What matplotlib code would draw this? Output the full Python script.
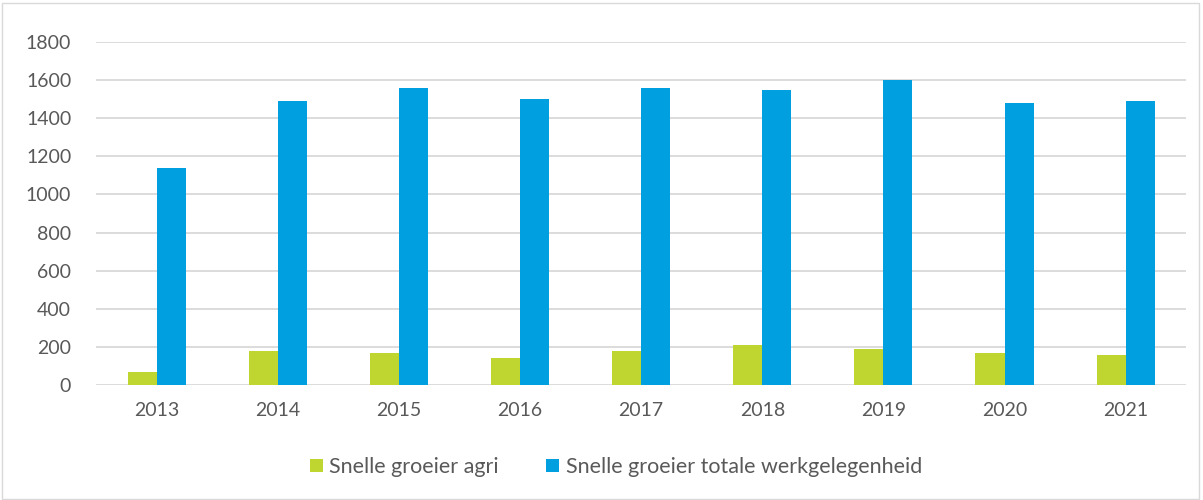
import numpy as np
import matplotlib
matplotlib.use("Agg")
import matplotlib.pyplot as plt
from matplotlib.patches import Rectangle

years = ["2013", "2014", "2015", "2016", "2017", "2018", "2019", "2020", "2021"]
agri = [70, 180, 170, 140, 180, 210, 190, 170, 160]
totaal = [1140, 1490, 1560, 1500, 1560, 1550, 1600, 1480, 1490]

plt.rcParams['font.family'] = ['Lato', 'DejaVu Sans']

fig = plt.figure(figsize=(12.03, 5.0), dpi=100)
ax = fig.add_axes([0.08, 0.23, 0.906, 0.686])

x = np.arange(len(years))
w = 0.24
ax.bar(x - w / 2, agri, w, color="#BFD630", label="Snelle groeier agri", zorder=3)
ax.bar(x + w / 2, totaal, w, color="#009FDF", label="Snelle groeier totale werkgelegenheid", zorder=3)

ax.set_xlim(-0.5, len(years) - 0.5)
ax.set_ylim(0, 1800)
ax.set_yticks(range(0, 1801, 200))
ax.set_xticks(x)
ax.set_xticklabels(years)
ax.tick_params(axis="both", length=0, labelsize=14, colors="#595959")
ax.tick_params(axis="x", pad=12)
ax.tick_params(axis="y", pad=18)
ax.grid(axis="y", color="#d9d9d9", linewidth=1.3, zorder=0)
ax.set_axisbelow(True)
for s in ax.spines.values():
    s.set_visible(False)

leg = fig.legend(loc="center", bbox_to_anchor=(0.512, 0.066), ncol=2, frameon=False,
                 fontsize=15.5, handlelength=0.6, handleheight=0.6, columnspacing=2.2,
                 handletextpad=0.3)
for t in leg.get_texts():
    t.set_color("#595959")

fig.patches.append(Rectangle((0.002, 0.003), 0.995, 0.992, transform=fig.transFigure,
                             fill=False, edgecolor="#d9d9d9", linewidth=1))

fig.savefig("out.png", dpi=100)
